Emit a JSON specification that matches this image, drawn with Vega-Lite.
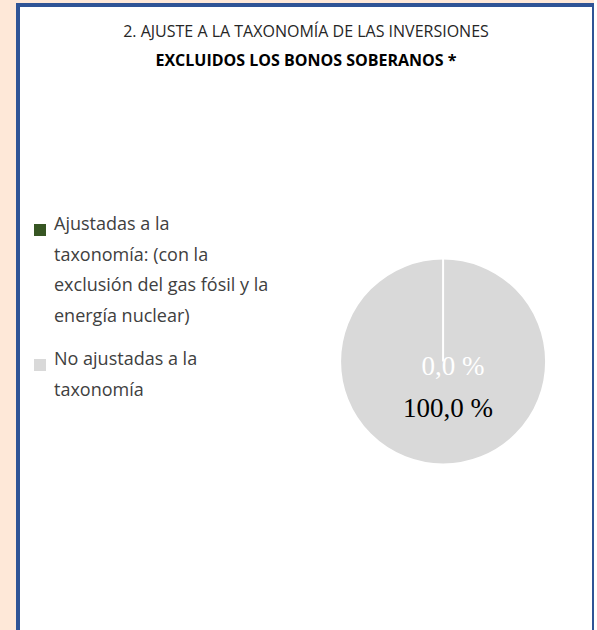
{
  "$schema": "https://vega.github.io/schema/vega-lite/v6.json",
  "width": 576,
  "height": 640,
  "autosize": {"type": "none"},
  "padding": {"left": 18, "top": 5, "right": 0, "bottom": 0},
  "background": "#FEE8D8",
  "title": {
    "text": "2. AJUSTE A LA TAXONOMÍA DE LAS INVERSIONES",
    "subtitle": "EXCLUIDOS LOS BONOS SOBERANOS *",
    "anchor": "middle",
    "font": "Open Sans",
    "fontSize": 16,
    "fontWeight": "normal",
    "color": "#262626",
    "subtitleFont": "Open Sans",
    "subtitleFontSize": 16,
    "subtitleFontWeight": "bold",
    "subtitleColor": "#000000",
    "subtitlePadding": 13,
    "offset": 0,
    "dy": 64
  },
  "config": {
    "view": {"fill": "white", "stroke": "#2F5496", "strokeWidth": 4},
    "style": {"guide-label": {"lineHeight": 30.5}}
  },
  "data": {
    "values": [
      {"categoria": "No ajustadas a la taxonomía", "valor": 100, "etiqueta": "100,0 %"},
      {"categoria": "Ajustadas a la taxonomía: (con la exclusión del gas fósil y la energía nuclear)", "valor": 0, "etiqueta": "0,0 %"}
    ]
  },
  "encoding": {
    "x": {"datum": 0.738, "type": "quantitative", "scale": {"domain": [0, 1]}, "axis": null},
    "y": {"datum": 0.443, "type": "quantitative", "scale": {"domain": [0, 1]}, "axis": null}
  },
  "layer": [
    {
      "mark": {"type": "arc", "outerRadius": 103, "stroke": "white", "strokeWidth": 2},
      "encoding": {
        "theta": {"field": "valor", "type": "quantitative", "stack": true},
        "color": {
          "field": "categoria",
          "type": "nominal",
          "scale": {
            "domain": ["Ajustadas a la taxonomía: (con la exclusión del gas fósil y la energía nuclear)", "No ajustadas a la taxonomía"],
            "range": ["#375623", "#D9D9D9"]
          },
          "legend": {
            "title": null,
            "orient": "none",
            "legendX": 13,
            "legendY": 216,
            "padding": 0,
            "symbolType": "square",
            "symbolSize": 144,
            "symbolStrokeWidth": 0,
            "labelFont": "Open Sans",
            "labelFontSize": 18,
            "labelColor": "#404040",
            "labelBaseline": "alphabetic",
            "labelOffset": 5,
            "labelLimit": 400,
            "rowPadding": 25,
            "labelExpr": "datum.label == 'No ajustadas a la taxonomía' ? ['No ajustadas a la', 'taxonomía'] : ['Ajustadas a la', 'taxonomía: (con la', 'exclusión del gas fósil y la', 'energía nuclear)']"
          }
        }
      }
    },
    {
      "transform": [{"filter": "datum.valor == 0"}],
      "mark": {"type": "text", "font": "Liberation Serif", "fontSize": 27, "color": "white", "align": "center", "baseline": "alphabetic", "dx": 10, "dy": 13.5},
      "encoding": {"text": {"field": "etiqueta"}}
    },
    {
      "transform": [{"filter": "datum.valor == 100"}],
      "mark": {"type": "text", "font": "Liberation Serif", "fontSize": 27, "color": "black", "align": "center", "baseline": "alphabetic", "dx": 5, "dy": 55.5},
      "encoding": {"text": {"field": "etiqueta"}}
    }
  ]
}
